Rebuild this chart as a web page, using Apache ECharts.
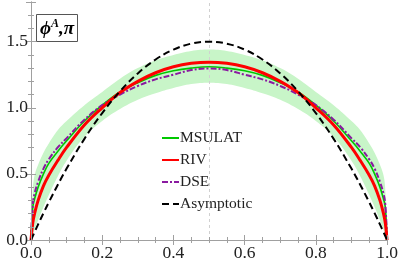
<!DOCTYPE html>
<html>
<head>
<meta charset="utf-8">
<script src="https://cdn.jsdelivr.net/npm/echarts@6/dist/echarts.min.js"></script>
<style>html,body{margin:0;padding:0;background:#fff}#c{width:401px;height:262px}</style>
</head>
<body>
<div id="c"></div>
<script>
var xs       = [0,0.005,0.01,0.02,0.035,0.05,0.075,0.1,0.15,0.2,0.25,0.3,0.35,0.4,0.45,0.5,0.55,0.6,0.65,0.7,0.75,0.8,0.85,0.9,0.925,0.95,0.965,0.98,0.99,0.995,1];
var msulat   = [0,0.25,0.31,0.40,0.50,0.58,0.67,0.75,0.90,1.02,1.12,1.19,1.245,1.28,1.30,1.31,1.30,1.28,1.245,1.19,1.12,1.02,0.90,0.75,0.67,0.58,0.50,0.40,0.31,0.25,0];
var riv      = [0,0.13,0.20,0.30,0.41,0.49,0.60,0.70,0.87,1.00,1.115,1.20,1.265,1.31,1.336,1.345,1.336,1.31,1.265,1.20,1.115,1.00,0.87,0.70,0.60,0.49,0.41,0.30,0.20,0.13,0];
var dse      = [0,0.27,0.35,0.44,0.54,0.61,0.70,0.77,0.91,1.02,1.10,1.165,1.215,1.25,1.285,1.298,1.285,1.25,1.215,1.165,1.10,1.02,0.91,0.77,0.70,0.61,0.54,0.44,0.35,0.27,0];
var asym     = [0,0.03,0.059,0.118,0.203,0.285,0.416,0.54,0.765,0.96,1.125,1.26,1.365,1.44,1.485,1.5,1.485,1.44,1.365,1.26,1.125,0.96,0.765,0.54,0.416,0.285,0.203,0.118,0.059,0.03,0];
var bandUp   = [0,0.38,0.49,0.57,0.66,0.73,0.83,0.90,1.02,1.12,1.22,1.30,1.36,1.40,1.43,1.44,1.43,1.40,1.36,1.30,1.22,1.12,1.02,0.90,0.83,0.73,0.66,0.57,0.49,0.38,0];
var bandLo   = [0,0.04,0.08,0.15,0.25,0.34,0.48,0.60,0.78,0.90,0.99,1.06,1.11,1.15,1.18,1.19,1.18,1.15,1.11,1.06,0.99,0.90,0.78,0.60,0.48,0.34,0.25,0.15,0.08,0.04,0];
var xTicks = [0,0.2,0.4,0.6,0.8,1.0];
var yTicks = [0,0.5,1.0,1.5];

function pts(ys){ return xs.map(function(x,i){ return [x, ys[i]]; }); }

var serif = 'Liberation Serif';
var axisCol = '#a0a0a0';
function axisCommon(showLabel){
  return {
    z:10,
    axisLine:{show:true, lineStyle:{color:axisCol, width:1}},
    axisTick:{show:true, inside:true, length:5, lineStyle:{color:axisCol}},
    minorTick:{show:true, length:3, lineStyle:{color:axisCol}},
    splitLine:{show:false},
    axisLabel:{show:showLabel, fontFamily:serif, fontSize:17.5, color:'#222',
      formatter:function(v){ return v.toFixed(1); }}
  };
}
var xb = Object.assign(axisCommon(true), {type:'value', min:0, max:1, interval:0.2, position:'bottom'});
xb.minorTick.splitNumber = 4; xb.axisLabel.margin = 4;
var xt = Object.assign(axisCommon(false), {type:'value', min:0, max:1, interval:0.2, position:'top'});
xt.minorTick.splitNumber = 4;
var yl = Object.assign(axisCommon(true), {type:'value', min:0, max:1.8, interval:0.5, position:'left'});
yl.minorTick.splitNumber = 5; yl.axisLabel.showMaxLabel = false; yl.axisLabel.margin = 3;
var yr = Object.assign(axisCommon(false), {type:'value', min:0, max:1.8, interval:0.5, position:'right'});
yr.minorTick.splitNumber = 5;

var chart = echarts.init(document.getElementById('c'), null, {renderer:'canvas'});
chart.setOption({
  animation:false,
  backgroundColor:'#fff',
  grid:{left:31, right:12, top:2, bottom:21, containLabel:false},
  xAxis:[xb, xt],
  yAxis:[yl, yr],
  title:{
    text:'{a|ϕ}{s|A}{b|,π}',
    left:36, top:14, padding:[4,4,3,4],
    borderColor:'#555', borderWidth:1,
    textStyle:{rich:{
      a:{fontFamily:serif, fontStyle:'italic', fontSize:19, color:'#000'},
      s:{fontFamily:serif, fontStyle:'italic', fontSize:12, color:'#000', padding:[0,0,10,0]},
      b:{fontFamily:serif, fontStyle:'italic', fontSize:19, color:'#000'}
    }}
  },
  legend:{
    orient:'vertical', left:161, top:130, padding:0, itemWidth:17, itemHeight:14, itemGap:6,
    data:['MSULAT','RIV','DSE','Asymptotic'],
    itemStyle:{opacity:0},
    textStyle:{fontFamily:serif, fontSize:15.5, color:'#222', padding:[0,0,0,-4]}
  },
  series:[
    {type:'line', name:'bandUp', data:pts(bandUp), symbol:'none', smooth:0.4,
      lineStyle:{opacity:0}, areaStyle:{color:'#c8f5c8', opacity:1}, z:1},
    {type:'line', name:'bandLo', data:pts(bandLo), symbol:'none', smooth:0.4,
      lineStyle:{opacity:0}, areaStyle:{color:'#ffffff', opacity:1}, z:1.5},
    {type:'line', name:'ref', data:[], z:2,
      markLine:{silent:true, symbol:'none', label:{show:false},
        lineStyle:{color:'#d0d0d0', type:[3,3], width:1},
        data:[{xAxis:0.5}]}},
    {type:'line', name:'MSULAT', data:pts(msulat), symbol:'none', smooth:0.4,
      color:'#00c800', lineStyle:{color:'#00c800', width:1.6}, z:3},
    {type:'line', name:'DSE', data:pts(dse), symbol:'none', smooth:0.4,
      color:'#8a1aa0', lineStyle:{color:'#8a1aa0', width:2, type:[6,2,2,2]}, z:4},
    {type:'line', name:'RIV', data:pts(riv), symbol:'none', smooth:0.4,
      color:'#ff0000', lineStyle:{color:'#ff0000', width:3}, z:5},
    {type:'line', name:'Asymptotic', data:pts(asym), symbol:'none', smooth:0.4,
      color:'#000', lineStyle:{color:'#000', width:2, type:[7,4]}, z:6}
  ]
});
</script>
</body>
</html>
